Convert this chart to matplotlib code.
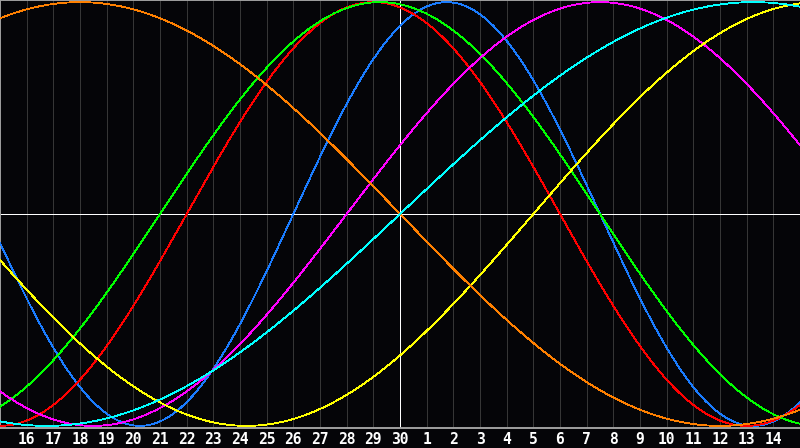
import numpy as np
import matplotlib
matplotlib.use("Agg")
import matplotlib.pyplot as plt

# day labels along the bottom (one per grid line)
days = [16, 17, 18, 19, 20, 21, 22, 23, 24, 25, 26, 27, 28, 29, 30,
        1, 2, 3, 4, 5, 6, 7, 8, 9, 10, 11, 12, 13, 14]

# cycles: length in days, day offset (from left edge) where the curve
# crosses zero going up, and colour
periods = [23, 28, 33, 38, 43, 48, 53]
zero_up = [11.0, 7.0, 6.0, 13.0, 20.0, 39.0, 15.0]
colors = ["#1a7cff", "#ff0000", "#00ff00", "#ff00ff", "#ffff00", "#ff8000", "#00ffff"]

bg = "#050508"
W, H = 800, 448

fig = plt.figure(figsize=(W / 100, H / 100), dpi=100, facecolor=bg)
# plot area: full width, top 428 px of the picture
ax = fig.add_axes([0, 20 / H, 1, 428 / H], facecolor=bg)

ax.set_xlim(0, 30)
ax.set_ylim(-1.01, 1.01)

# vertical day grid
for i in range(1, len(days) + 1):
    ax.axvline(i, color="#363636", lw=0.72, antialiased=False, zorder=1)

# curves
t = np.linspace(0, 30, 1500)
for p, z, c in zip(periods, zero_up, colors):
    ax.plot(t, np.sin(2 * np.pi * (t - z) / p), color=c, lw=0.6,
            antialiased=False, zorder=3)

# centre cross
ax.axhline(0, color="white", lw=0.72, antialiased=False, zorder=2)
ax.axvline(15, color="white", lw=0.72, antialiased=False, zorder=2)

for s in ax.spines.values():
    s.set_color("#a0a0a0")
    s.set_linewidth(1.4)
ax.spines["right"].set_visible(False)

ax.set_xticks(range(1, len(days) + 1))
ax.set_xticklabels([str(d) for d in days], fontfamily="DejaVu Sans Mono",
                   fontweight="bold", fontsize=10.5, color="white")
ax.tick_params(axis="x", length=0, pad=3)
ax.set_yticks([])

fig.savefig("out.png", dpi=100, facecolor=bg)
